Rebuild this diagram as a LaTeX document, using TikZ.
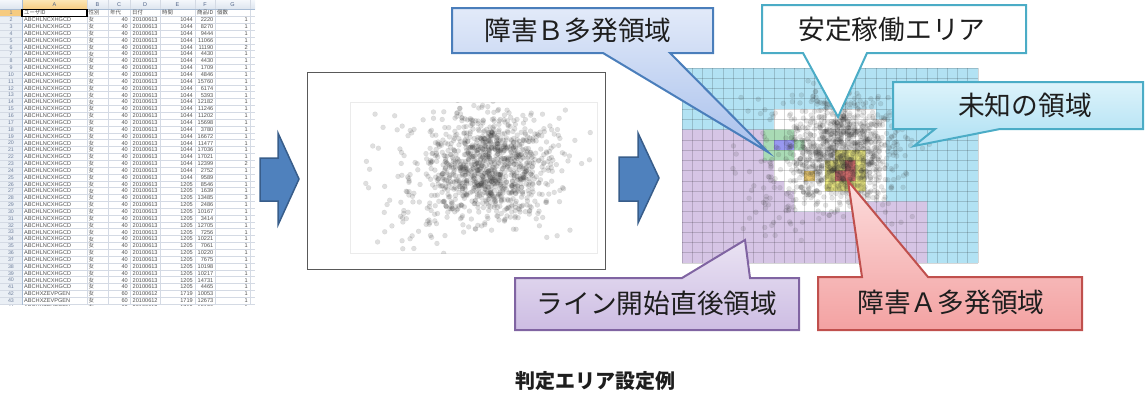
\documentclass[tikz,border=0pt]{standalone}
\usepackage{fontspec}
\setmainfont{Liberation Sans}
\newfontfamily\jp{Noto Sans CJK JP}
\definecolor{arrowfill}{HTML}{4F81BD}
\definecolor{arrowline}{HTML}{385D8A}
\definecolor{hdrtop}{HTML}{F4F7FB}
\definecolor{hdrbot}{HTML}{DCE4EE}
\definecolor{seltop}{HTML}{FCE6B4}
\definecolor{selbot}{HTML}{F6CB80}
\definecolor{xlgridc}{HTML}{D4DAE4}
\definecolor{hdrlinec}{HTML}{A8BCD4}
\definecolor{hdrtxtc}{HTML}{4D6185}
\definecolor{cellc}{HTML}{505050}
\definecolor{cyanf}{HTML}{B2E2F3}
\definecolor{purf}{HTML}{D6C5E5}
\definecolor{greenf}{HTML}{A9DAB5}
\definecolor{bluef}{HTML}{9898F0}
\definecolor{yellowf}{HTML}{E6E47E}
\definecolor{redf}{HTML}{E07070}
\definecolor{orangef}{HTML}{E4C46C}
\definecolor{calB}{HTML}{4A7EBB}
\definecolor{calBtop}{HTML}{E2EAF9}
\definecolor{calBbot}{HTML}{A8C0EC}
\definecolor{calC}{HTML}{4BACC6}
\definecolor{calCtop}{HTML}{DDF3FB}
\definecolor{calCbot}{HTML}{AEE0F3}
\definecolor{calP}{HTML}{8064A2}
\definecolor{calPtop}{HTML}{EAE3F3}
\definecolor{calPbot}{HTML}{CDBDE3}
\definecolor{calR}{HTML}{C0504D}
\definecolor{calRtop}{HTML}{FCDCDC}
\definecolor{calRbot}{HTML}{F3A2A2}
\definecolor{txtdark}{HTML}{1E1E1E}
\def\dotop{0.2}
\newcommand\dotcloud[4]{%
  \pgfmathsetseed{7}%
  \foreach \i in {1,...,1000}{%
    \pgfmathsetmacro\u{#1+#3*(0.575+0.12*(rand+rand+rand))}%
    \pgfmathsetmacro\v{#2+#4*(0.42+0.17*(rand+rand+rand))}%
    \path[dotst] (\u,\v) circle[radius=2.5];
  }%
  \foreach \i in {1,...,140}{%
    \pgfmathsetmacro\u{#1+#3*(0.38+0.15*(rand+rand+rand))}%
    \pgfmathsetmacro\v{#2+#4*(0.58+0.2*(rand+rand+rand))}%
    \path[dotst] (\u,\v) circle[radius=2.5];
  }%
  \foreach \i in {1,...,45}{%
    \pgfmathsetmacro\u{#1+#3*(0.02+0.96*rnd)}%
    \pgfmathsetmacro\v{#2+#4*(0.03+0.94*rnd)}%
    \path[dotst] (\u,\v) circle[radius=2.5];
  }%
}
\tikzset{
  xlgrid/.style={draw=xlgridc, line width=0.5},
  hdrline/.style={draw=hdrlinec, line width=0.6},
  hdrtxt/.style={font=\fontsize{5.5}{6}\selectfont, text=hdrtxtc, inner sep=0},
  rownum/.style={font=\fontsize{5.3}{6}\selectfont, text=hdrtxtc!80, inner sep=0},
  cellt/.style={font=\fontsize{5.6}{6}\selectfont, text=cellc, inner sep=0},
  cellj/.style={font=\jp\fontsize{5.4}{6}\selectfont, text=cellc, inner sep=0, anchor=west},
  blockarrow/.style={fill=arrowfill, draw=arrowline, line width=1.5, line join=miter},
  dotst/.style={fill=black!75, fill opacity=\dotop, draw=black, draw opacity=0.07, line width=0.3},
  gridln/.style={draw=black, draw opacity=0.16, line width=0.6},
  callt/.style={font=\jp\fontsize{26.7}{30}\selectfont, text=txtdark, inner sep=0},
  calshape/.style={line width=2, line join=miter},
}
\begin{document}
\begin{tikzpicture}[x=1pt,y=-1pt]
\useasboundingbox (0,0) rectangle (1147,394);

% ---------------- spreadsheet ----------------
\begin{scope}
\clip (0,0) rectangle (255,305);
\fill[white] (0,0) rectangle (255,305);
\fill[hdrbot!60] (0,0) rectangle (22,305);
\shade[top color=hdrtop,bottom color=hdrbot] (0,0) rectangle (255,9.5);
\shade[top color=seltop,bottom color=selbot] (22,0) rectangle (87,9.5);
\fill[selbot] (0,9.5) rectangle (22,16.35);
\foreach \k in {1,...,45} \draw[xlgrid] (0,{9.5+6.85*\k}) -- (255,{9.5+6.85*\k});
\foreach \xx in {87,108,130,160,195,215,250} \draw[xlgrid] (\xx,0) -- (\xx,305);
\draw[hdrline] (0,9.5) -- (255,9.5);
\draw[hdrline] (22,0) -- (22,305);
\foreach \L/\xc in {A/54.5,B/97.5,C/119,D/145,E/177.5,F/205,G/232.5}
  \node[hdrtxt] (col\L) at (\xc,5) {\L};
\foreach \k in {1,...,44} \node[rownum] (rn\k) at (11,{9.5+6.85*(\k-0.5)}) {\k};
\node[cellj] (h1) at (24,12.9) {ユーザID};
\node[cellj] (h2) at (88.5,12.9) {性別};
\node[cellj] (h3) at (110,12.9) {年代};
\node[cellj] (h4) at (132,12.9) {日付};
\node[cellj] (h5) at (162,12.9) {時間};
\node[cellj] (h6) at (197,12.9) {商品ID};
\node[cellj] (h7) at (217,12.9) {個数};
\draw[black, line width=1.1] (22,9.5) rectangle (87,16.35);
\foreach \r/\t/\p/\c in {2/1044/2220/1,3/1044/8270/1,4/1044/9444/1,5/1044/11066/1,6/1044/11190/2,7/1044/4430/1,8/1044/4430/1,9/1044/1709/1,10/1044/4846/1,11/1044/15760/1,12/1044/6174/1,13/1044/5393/1,14/1044/12182/1,15/1044/11246/1,16/1044/11202/1,17/1044/15698/1,18/1044/3780/1,19/1044/16672/1,20/1044/11477/1,21/1044/17036/1,22/1044/17021/1,23/1044/12399/2,24/1044/2752/1,25/1044/9589/1,26/1205/8546/1,27/1205/1639/1,28/1205/13485/3,29/1205/2486/1,30/1205/10167/1,31/1205/3414/1,32/1205/12705/1,33/1205/7256/1,34/1205/10221/1,35/1205/7061/1,36/1205/10220/1,37/1205/7675/1,38/1205/10198/1,39/1205/10217/1,40/1205/14731/1,41/1205/4465/1,42/1719/10053/1,43/1719/12673/1,44/1719/15126/1}{
  \pgfmathsetmacro\yc{9.5+6.85*(\r-0.5)}
  \ifnum\r>41\relax
    \def\uid{ABCHXZEVPGEN}\def\age{60}\def\dt{20100612}%
  \else
    \def\uid{ABCHLNCXHGCD}\def\age{40}\def\dt{20100613}%
  \fi
  \node[cellt,anchor=west] (a\r) at (24,\yc) {\uid};
  \node[cellj] (b\r) at (88.5,\yc) {女};
  \node[cellt,anchor=east] (c\r) at (128,\yc) {\age};
  \node[cellt,anchor=west] (d\r) at (132.5,\yc) {\dt};
  \node[cellt,anchor=east] (e\r) at (193,\yc) {\t};
  \node[cellt,anchor=east] (f\r) at (213.5,\yc) {\p};
  \node[cellt,anchor=east] (g\r) at (248,\yc) {\c};
}
\end{scope}

% ---------------- arrows ----------------
\draw[blockarrow] (260,158) -- (278,158) -- (278,133) -- (299,179) -- (278,225) -- (278,201) -- (260,201) -- cycle;
\draw[blockarrow] (619,157) -- (638,157) -- (638,133) -- (659,178) -- (638,223) -- (638,201) -- (619,201) -- cycle;

% ---------------- scatter plot ----------------
\node[draw=black!65, line width=0.9, minimum width=298, minimum height=197, inner sep=0] (plot) at (456.5,170.5) {};
\draw[black!8, line width=0.5] (350,102) rectangle (597,253);
\begin{scope}
\clip (350,102) rectangle (597,253);
\def\dotop{0.17}
\dotcloud{350}{102}{247}{151}
\end{scope}

% ---------------- grid map ----------------
\begin{scope}[shift={(682pt,-68pt)}, x=10.2pt, y=-10.26pt]
  \fill[cyanf] (0,0) rectangle (29,19);
  \fill[purf] (0,6) -- (8,6) -- (8,9) -- (9,9) -- (9,11) -- (10,11) -- (10,12) -- (11,12) -- (11,14) -- (18,14) -- (18,13) -- (24,13) -- (24,19) -- (0,19) -- cycle;
  \fill[white] (9,4) -- (19,4) -- (19,5) -- (20,5) -- (20,13) -- (18,13) -- (18,14) -- (11,14) -- (11,12) -- (10,12) -- (10,11) -- (9,11) -- cycle;
  \fill[greenf] (8,6) -- (11,6) -- (11,7) -- (12,7) -- (12,8) -- (11,8) -- (11,9) -- (8,9) -- cycle;
  \fill[bluef] (9,7) rectangle (11,8);
  \fill[yellowf] (15,8) -- (18,8) -- (18,12) -- (14,12) -- (14,9) -- (15,9) -- cycle;
  \fill[redf] (16,9) -- (17,9) -- (17,11) -- (15,11) -- (15,10) -- (16,10) -- cycle;
  \fill[orangef] (12,10) rectangle (13,11);
\end{scope}
\begin{scope}
\clip (682,68) rectangle (977.8,263);
\def\dotop{0.14}
\dotcloud{719}{85}{217}{155}
\end{scope}
\begin{scope}[shift={(682pt,-68pt)}, x=10.2pt, y=-10.26pt]
  \foreach \i in {0,...,29} \draw[gridln] (\i,0) -- (\i,19);
  \foreach \j in {0,...,19} \draw[gridln] (0,\j) -- (29,\j);
\end{scope}

% ---------------- callouts ----------------
\shadedraw[calshape, draw=calB, top color=calBtop, bottom color=calBbot]
  (452,8) -- (713,8) -- (713,53) -- (670,53) -- (768,152) -- (603,53) -- (452,53) -- cycle;
\node[callt] (tB) at (578,30) {障害Ｂ多発領域};

\draw[calshape, draw=calC, fill=white]
  (762,5) -- (1026,5) -- (1026,53) -- (867,53) -- (838,117) -- (803,53) -- (762,53) -- cycle;
\node[callt] (tS) at (892,29) {安定稼働エリア};

\shadedraw[calshape, draw=calC, top color=calCtop, bottom color=calCbot]
  (893,82) -- (1143,82) -- (1143,129) -- (1000,129) -- (914,146) -- (935,129) -- (893,129) -- cycle;
\node[callt] (tU) at (1025,105) {未知の領域};

\shadedraw[calshape, draw=calP, top color=calPtop, bottom color=calPbot]
  (515,278) -- (682,278) -- (745,240) -- (750,278) -- (799,278) -- (799,330) -- (515,330) -- cycle;
\node[callt] (tL) at (657,303) {ライン開始直後領域};

\shadedraw[calshape, draw=calR, top color=calRtop, bottom color=calRbot]
  (818,277) -- (862,277) -- (848,181) -- (928,277) -- (1082,277) -- (1082,330) -- (818,330) -- cycle;
\node[callt] (tA) at (951,302) {障害Ａ多発領域};

% ---------------- caption ----------------
\node[font=\jp\bfseries\fontsize{20}{22}\selectfont, text=txtdark, inner sep=0] (cap) at (595,381) {判定エリア設定例};
\end{tikzpicture}
\end{document}
